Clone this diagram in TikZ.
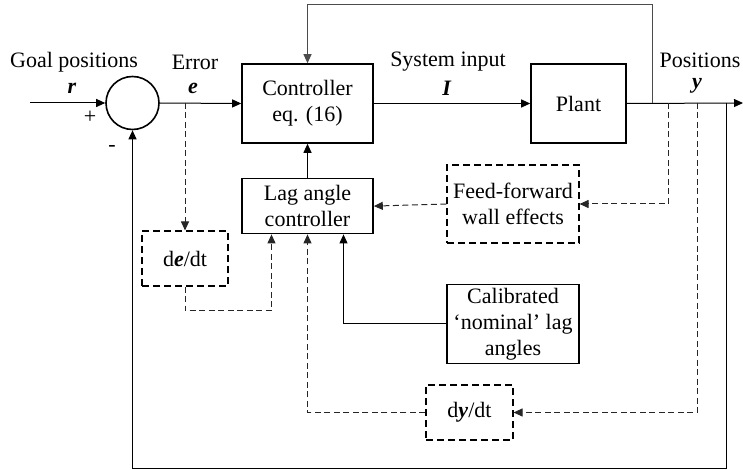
\documentclass[tikz,border=0pt]{standalone}
\usepackage{fontspec}
\setmainfont{Liberation Serif}
\usetikzlibrary{positioning,arrows.meta}

\begin{document}
\begin{tikzpicture}[x=1pt,y=-1pt,
      every node/.style={font=\fontsize{22}{26}\selectfont},
      block/.style={rectangle,draw,line width=1.6pt,align=center,inner sep=1pt},
      dblock/.style={rectangle,draw,line width=1.1pt,dash pattern=on 7pt off 4pt,align=center,inner sep=1pt},
      sumnode/.style={circle,draw,line width=1.6pt,minimum size=53pt,inner sep=0pt},
      sig/.style={line width=1pt,-{Triangle[length=9pt,width=8pt]}},
      dsig/.style={sig,draw=black!85,dash pattern=on 6pt off 3.5pt}]
      \useasboundingbox (0,0) rectangle (743,470);
      % blocks
      \node[sumnode] (sum) at (132.5,103) {};
      \node[block,minimum width=131pt,minimum height=79pt] (ctrl) at (307.5,103.5) {Controller\\eq. (16)};
      \node[block,minimum width=95pt,minimum height=79pt] (plant) at (578.5,103.5) {Plant};
      \node[block,minimum width=131pt,minimum height=55pt,below=34pt of ctrl] (lag) {Lag angle\\controller};
      \node[dblock,minimum width=132pt,minimum height=78pt] (ff) at (513,204) {Feed-forward\\wall effects};
      \node[dblock,minimum width=86pt,minimum height=55pt] (dedt) at (185,258.5) {d\textbf{\textit{e}}/dt};
      \node[block,minimum width=132pt,minimum height=79pt,below=40pt of ff] (calib) {Calibrated\\`nominal' lag\\angles};
      \node[dblock,minimum width=87pt,minimum height=55pt] (dydt) at (469.5,412.5) {d\textbf{\textit{y}}/dt};
      % labels
      \node (goal) at (74,62) {Goal positions};
      \node (rlab) at (72,88) {\textbf{\textit{r}}};
      \node (plus) at (90,117) {+};
      \node (minus) at (112,148) {-};
      \node (err) at (195,62) {Error};
      \node (elab) at (193,88) {\textbf{\textit{e}}};
      \node (sysin) at (448,62) {System input};
      \node (ilab) at (447,88) {\textbf{\textit{I}}};
      \node (pos) at (700,60) {Positions};
      \node (ylab) at (697,86) {\textbf{\textit{y}}};
      % taps
      \coordinate (in) at (30,103);
      \coordinate (out) at (743,103);
      \coordinate (etap) at (185,103);
      \coordinate (fbtap) at (652,103);
      \coordinate (fbtop) at (652,5);
      \coordinate (fftap) at (668,103);
      \coordinate (dytap) at (697,103);
      \coordinate (ytap) at (726,103);
      % main path
      \draw[sig] (in) -- (sum.west);
      \draw[sig] (sum.east) -- (ctrl.west);
      \draw[sig] (ctrl.east) -- (plant.west);
      \draw[sig] (plant.east) -- (out);
      \draw[sig,draw=black!70] (fbtap) -- (fbtop) -| (ctrl.north);
      \draw[sig] (lag.north) -- (ctrl.south);
      \draw[sig] (calib.west) -| ([xshift=36pt]lag.south);
      \draw[sig] (ytap) -- ++(0,365) -| (sum.south);
      % dashed paths
      \draw[dsig] (etap) -- (dedt.north);
      \draw[dsig] (dedt.south) -- ++(0,24) -| ([xshift=-36pt]lag.south);
      \draw[dsig] (fftap) |- (ff.east);
      \draw[dsig] (ff.west) -- (lag.east);
      \draw[dsig] (dytap) |- (dydt.east);
      \draw[dsig] (dydt.west) -| (lag.south);
\end{tikzpicture}
\end{document}
